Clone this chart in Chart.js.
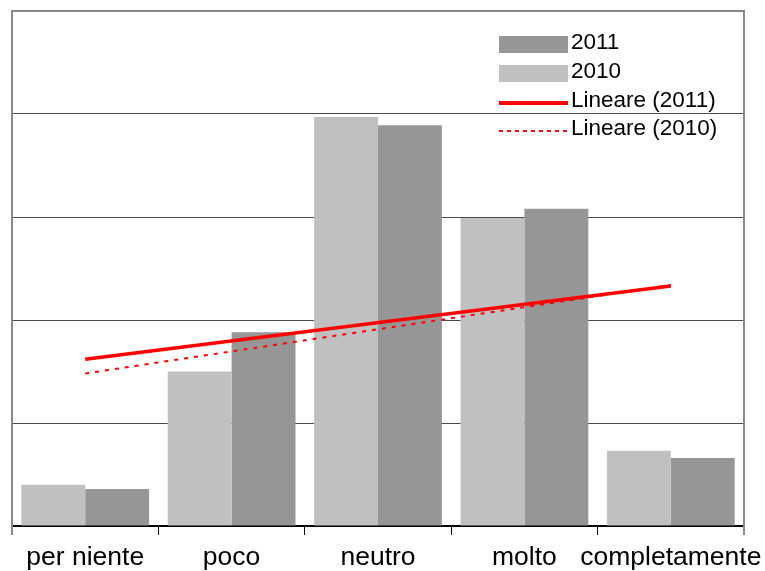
<!DOCTYPE html>
<html>
<head>
<meta charset="utf-8">
<script src="https://cdn.jsdelivr.net/npm/chart.js@4/dist/chart.umd.min.js"></script>
<style>
  html, body { margin: 0; padding: 0; background: #ffffff; }
  canvas { display: block; }
</style>
</head>
<body>
<canvas id="chart" width="765" height="571"></canvas>
<script>
// Survey answers by category, two years compared
const categories = ['per niente', 'poco', 'neutro', 'molto', 'completamente'];
const values2010 = [4.0, 15.0, 39.7, 29.9, 7.3];
const values2011 = [3.6, 18.8, 38.9, 30.8, 6.6];
// Linear trend lines: value at the first and last category
const trend2011 = [16.2, null, null, null, 23.3];
const trend2010 = [14.8, null, null, null, 23.4];
const yTicks = [0, 10, 20, 30, 40, 50];

const FONT = '"Liberation Sans", Arial, sans-serif';
const LIGHT = '#c0c0c0';
const DARK = '#969696';
const RED = '#ff0000';

// Plot frame: grey top, left and right edges
const framePlugin = {
  id: 'frame',
  beforeDatasetsDraw(chart) {
    const { ctx, chartArea: a } = chart;
    ctx.save();
    ctx.strokeStyle = '#888888';
    ctx.lineWidth = 2;
    ctx.beginPath();
    ctx.moveTo(a.left, a.bottom + 9);
    ctx.lineTo(a.left, a.top);
    ctx.lineTo(a.right, a.top);
    ctx.lineTo(a.right, a.bottom + 9);
    ctx.stroke();
    ctx.restore();
  }
};

// Legend drawn inside the plot, top right
const legendPlugin = {
  id: 'insideLegend',
  afterDraw(chart) {
    const { ctx } = chart;
    const ds = chart.data.datasets;
    const items = [
      { label: ds[3].label, kind: 'box', color: ds[3].backgroundColor },
      { label: ds[2].label, kind: 'box', color: ds[2].backgroundColor },
      { label: ds[0].label, kind: 'line', color: ds[0].borderColor, width: 4, dash: [] },
      { label: ds[1].label, kind: 'line', color: ds[1].borderColor, width: 2, dash: [4, 4] }
    ];
    const x0 = 499, x1 = 568, textX = 571;
    const rowY = [44.5, 73.5, 103, 131];
    ctx.save();
    ctx.font = '22.5px ' + FONT;
    ctx.textBaseline = 'middle';
    ctx.fillStyle = '#000';
    items.forEach((it, i) => {
      const y = rowY[i];
      if (it.kind === 'box') {
        ctx.fillStyle = it.color;
        ctx.fillRect(x0, y - 8.5, x1 - x0, 17);
      } else {
        ctx.strokeStyle = it.color;
        ctx.lineWidth = it.width;
        ctx.setLineDash(it.dash);
        ctx.beginPath();
        ctx.moveTo(x0, y);
        ctx.lineTo(x1, y);
        ctx.stroke();
        ctx.setLineDash([]);
      }
      ctx.fillStyle = '#000';
      ctx.fillText(it.label, textX, y - 2);
    });
    ctx.restore();
  }
};

new Chart(document.getElementById('chart'), {
  type: 'bar',
  data: {
    labels: categories,
    datasets: [
      {
        type: 'line', label: 'Lineare (2011)', data: trend2011,
        borderColor: RED, borderWidth: 3.5, pointRadius: 0, spanGaps: true,
        tension: 0, fill: false, order: 0
      },
      {
        type: 'line', label: 'Lineare (2010)', data: trend2010,
        borderColor: RED, borderWidth: 2, borderDash: [4, 6], pointRadius: 0,
        spanGaps: true, tension: 0, fill: false, order: 0
      },
      {
        label: '2010', data: values2010, backgroundColor: LIGHT,
        categoryPercentage: 0.873, barPercentage: 1.0, order: 1
      },
      {
        label: '2011', data: values2011, backgroundColor: DARK,
        categoryPercentage: 0.873, barPercentage: 1.0, order: 1
      }
    ]
  },
  options: {
    responsive: false,
    animation: false,
    layout: { padding: { left: 12, right: 21, top: 11, bottom: 0 } },
    plugins: { legend: { display: false }, tooltip: { enabled: false } },
    scales: {
      x: {
        offset: true,
        grid: {
          offset: true, drawOnChartArea: false, drawTicks: true,
          tickLength: 9, color: '#000', lineWidth: 1
        },
        border: { display: true, color: '#000', width: 2 },
        ticks: {
          font: { family: FONT, size: 26.5 }, color: '#000',
          maxRotation: 0, autoSkip: false, padding: 7
        },
        afterFit(scale) {
          scale.height = 45;
          scale.paddingLeft = 0;
          scale.paddingRight = 0;
        }
      },
      y: {
        min: yTicks[0], max: yTicks[yTicks.length - 1],
        afterBuildTicks(scale) { scale.ticks = yTicks.map(v => ({ value: v })); },
        ticks: { display: false },
        border: { display: false },
        grid: {
          drawTicks: false,
          color: ctx => (ctx.tick && (ctx.tick.value === yTicks[0] || ctx.tick.value === yTicks[yTicks.length - 1])) ? 'rgba(0,0,0,0)' : '#4a4a4a',
          lineWidth: 1
        },
        afterFit(scale) { scale.width = 0; }
      }
    }
  },
  plugins: [framePlugin, legendPlugin]
});
</script>
</body>
</html>
